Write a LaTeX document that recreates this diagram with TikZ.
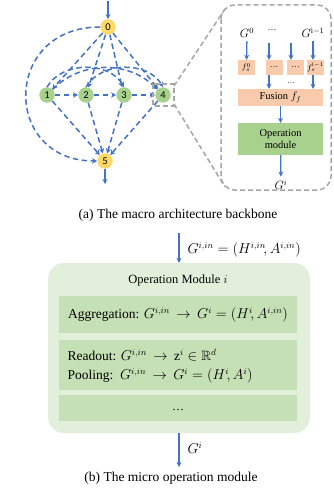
\documentclass[tikz,border=0pt]{standalone}
\usepackage{amssymb}
\usepackage{fontspec}
\setmainfont{Liberation Serif}
\newfontfamily\calfont{Carlito}
\usetikzlibrary{arrows.meta}
\definecolor{eblue}{HTML}{4472C4}
\definecolor{ngreen}{HTML}{A9D18E}
\definecolor{nyellow}{HTML}{FFD966}
\definecolor{peach}{HTML}{F8CBAD}
\definecolor{lgreen}{HTML}{E2EFDA}
\definecolor{mgreen}{HTML}{C5E0B4}
\definecolor{dgray}{HTML}{A6A6A6}
\tikzset{
  gnode/.style={circle,inner sep=0pt,minimum size=15.5pt,font=\calfont\fontsize{10.5}{10.5}\selectfont},
  dedge/.style={draw=eblue,line width=1.5pt,dash pattern=on 5.5pt off 3.5pt,-{Stealth[length=5pt,width=5.5pt]}},
  sedge/.style={draw=eblue,line width=1.4pt,-{Stealth[length=5pt,width=5pt]}},
  sbox/.style={draw=none,fill=peach,inner sep=0pt,font=\fontsize{8.5}{9}\selectfont},
  gbox/.style={draw=none,fill=ngreen,inner sep=0pt,align=center,font=\fontsize{10.5}{12}\selectfont},
  grayd/.style={draw=dgray,line width=1.5pt,dash pattern=on 5pt off 3pt},
  inbox/.style={fill=mgreen,draw=none,inner sep=0pt},
  btxt/.style={font=\fontsize{13.5}{14}\selectfont}
}
\begin{document}
\begin{tikzpicture}[x=1pt,y=1pt]
\useasboundingbox (0,0) rectangle (333,-492);
% ---------- (a) macro graph
\node[gnode,fill=nyellow] (n0) at (108,-27) {0};
\node[gnode,fill=ngreen] (n1) at (47,-95) {1};
\node[gnode,fill=ngreen] (n2) at (86,-95) {2};
\node[gnode,fill=ngreen] (n3) at (124,-95) {3};
\node[gnode,fill=ngreen] (n4) at (163,-95) {4};
\node[gnode,fill=nyellow] (n5) at (105,-161) {5};
\coordinate (tin) at (108,-1);
\coordinate (tout) at (105,-184);
\draw[sedge] (tin) -- (n0);
\draw[sedge] (n5) -- (tout);
\foreach \t in {n1,n2,n3,n4}{\draw[dedge] (n0) -- (\t);}
\foreach \s in {n1,n2,n3,n4}{\draw[dedge] (\s) -- (n5);}
\draw[dedge] (n1) -- (n2);
\draw[dedge] (n2) -- (n3);
\draw[dedge] (n3) -- (n4);
\draw[dedge] (n1.north) to[out=60,in=120] (n3.north);
\draw[dedge] (n1.north east) to[out=45,in=135] (n4.north west);
\draw[dedge] (n2.north) to[out=60,in=120] (n4.north);
\draw[dedge] (n0.west) .. controls (2,-27) and (2,-161) .. (n5.west);
% zoom square and lines
\draw[grayd] (153,-84) rectangle (174,-106);
\coordinate (sq1) at (174,-86);
\coordinate (sq2) at (174,-104);
\draw[grayd,rounded corners=14pt] (221,-5) rectangle (331,-190);
\coordinate (bx1) at (225,-9);
\coordinate (bx2) at (225,-187);
\draw[grayd] (sq1) -- (bx1);
\draw[grayd] (sq2) -- (bx2);
% inside the zoom box
\node[font=\fontsize{11.5}{11.5}\selectfont] (g0) at (247,-33) {$G^0$};
\node[font=\fontsize{9}{9}\selectfont] (gd) at (272,-30) {\dots};
\node[font=\fontsize{11.5}{11.5}\selectfont] (gi1) at (313,-33) {$G^{\mathrm{i}-1}$};
\node[sbox,minimum width=17pt,minimum height=15pt] (b1) at (246.5,-67.5) {$f_s^0$};
\node[sbox,minimum width=17pt,minimum height=15pt] (b2) at (274,-67.5) {\dots};
\node[sbox,minimum width=17pt,minimum height=15pt] (b3) at (295.5,-67.5) {\dots};
\node[sbox,minimum width=17pt,minimum height=15pt,font=\fontsize{8}{8}\selectfont] (b4) at (315.5,-67.5) {$f_s^{\mathrm{i}-1}$};
\coordinate (a2) at (269,-43);
\coordinate (a3) at (291,-43);
\draw[sedge,line width=1.3pt] (g0) -- (b1);
\draw[sedge,line width=1.3pt] (a2) -- (a2|-b2.north);
\draw[sedge,line width=1.3pt] (a3) -- (a3|-b3.north);
\draw[sedge,line width=1.3pt] (gi1) -- (gi1|-b4.north);
\node[sbox,minimum width=85pt,minimum height=17pt,font=\fontsize{10.5}{11}\selectfont] (fus) at (280.5,-97.5) {Fusion $f_f$};
\node[font=\fontsize{8}{8}\selectfont] (fd) at (291,-83) {\dots};
\draw[sedge,line width=1.3pt] (a2|-b2.south) -- (a2|-fus.north);
\draw[sedge,line width=1.3pt] (gi1|-b4.south) -- (gi1|-fus.north);
\node[gbox,minimum width=85pt,minimum height=32pt] (op) at (280.5,-139) {Operation\\module};
\draw[sedge,line width=1.3pt] (fus) -- (op);
\node[font=\fontsize{11.5}{11.5}\selectfont] (gi) at (281,-185) {$G^{i}$};
\draw[sedge,line width=1.3pt] (op) -- (gi);
\node[btxt] (capa) at (178,-215) {(a) The macro architecture backbone};
% ---------- (b)
\coordinate (bin) at (179,-233);
\node[draw=none,fill=lgreen,rounded corners=16pt,minimum width=262pt,minimum height=170pt,inner sep=0pt] (outer) at (179,-348) {};
\draw[sedge] (bin) -- (bin|-outer.north);
\node[anchor=west,btxt] (lin) at (184,-250) {$G^{i,in}=\bigl(H^{i,in}\!,A^{i,in}\bigr)$};
\node[font=\fontsize{12.5}{13}\selectfont] (omt) at (178,-280) {Operation Module $i$};
\node[inbox,minimum width=238pt,minimum height=37pt] (ib1) at (178,-314.5) {};
\node[btxt] (agg) at (178,-315) {Aggregation: $G^{i,in}\,\rightarrow\, G^{i}=\bigl(H^{i}\!,A^{i,in}\bigr)$};
\node[inbox,minimum width=238pt,minimum height=50pt] (ib2) at (178,-365) {};
\node[anchor=west,btxt] (ro) at (64,-355) {Readout: $G^{i,in}\,\rightarrow\, \mathrm{z}^{i}\in\mathbb{R}^{d}$};
\node[anchor=west,btxt] (po) at (64,-376) {Pooling:\ \ $G^{i,in}\,\rightarrow\, G^{i}=\bigl(H^{i}\!,A^{i}\bigr)$};
\node[inbox,minimum width=238pt,minimum height=26pt] (ib3) at (178,-408) {};
\node[font=\fontsize{12}{12}\selectfont] (dots) at (178,-410) {\dots};
\coordinate (bout) at (179,-467);
\draw[sedge] (bout|-outer.south) -- (bout);
\node[anchor=west,btxt] (gout) at (184,-448) {$G^{i}$};
\node[btxt] (capb) at (171,-478) {(b) The micro operation module};
\end{tikzpicture}
\end{document}
